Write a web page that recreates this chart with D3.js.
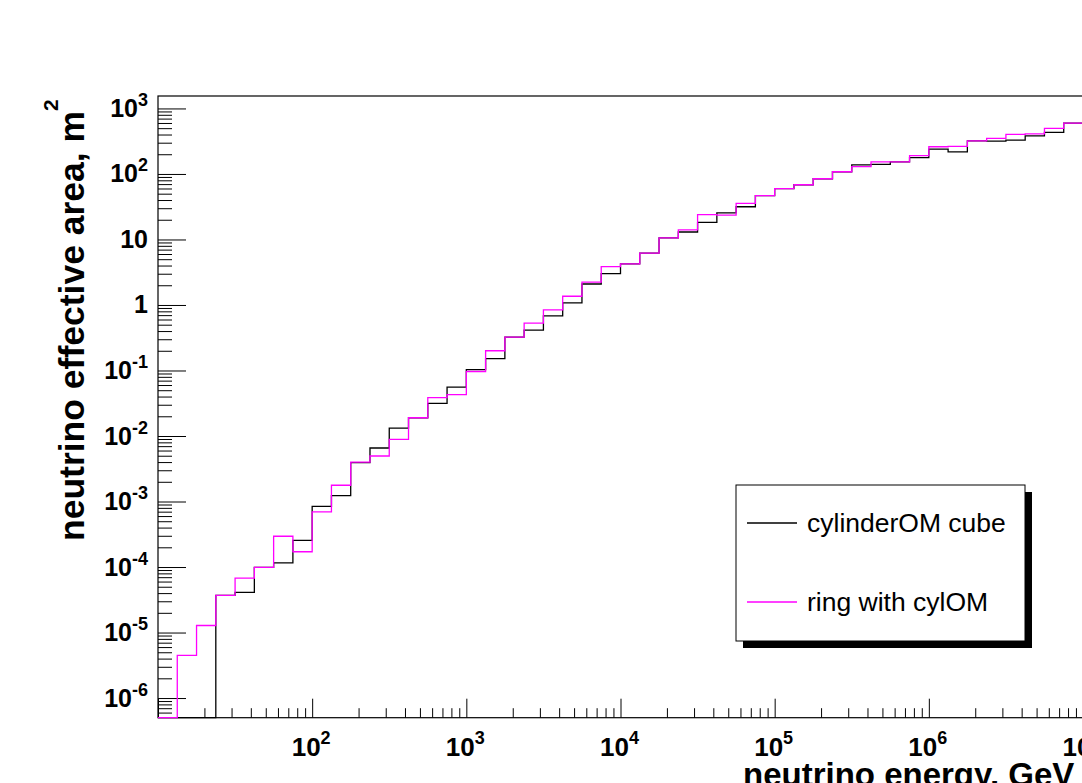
<!DOCTYPE html>
<html>
<head>
<meta charset="utf-8">
<script src="https://cdn.jsdelivr.net/npm/d3@7"></script>
<style>
  body { margin: 0; background: #fff; }
  svg { display: block; }
  text { font-family: "Liberation Sans", Arial, Helvetica, sans-serif; }
</style>
</head>
<body>
<svg id="chart" width="1082" height="783"></svg>
<script>
// histogram binning: 8 bins per decade, 10 GeV .. 10^7 GeV
var energyMin = 10, energyMax = 1e7, binsPerDecade = 8;

// effective area per bin, m^2 (0 = empty bin)
var cylinderOMcube = [
    0, 0, 0, 3.7e-5, 4.1e-5, 9.9e-5, 1.16e-4, 2.56e-4,
    8.45e-4, 1.23e-3, 3.92e-3, 6.56e-3, 1.32e-2, 1.90e-2, 3.14e-2, 5.58e-2,
    0.103, 0.152, 0.323, 0.413, 0.682, 1.08, 2.09, 3.01,
    4.24, 6.17, 10.6, 13.0, 18.3, 25.4, 31.6, 46.6,
    59.6, 68.4, 84.5, 108, 138, 140, 153, 177,
    240, 218, 321, 317, 329, 382, 431, 597
];
var ringWithCylOM = [
    0, 4.48e-6, 1.28e-5, 3.7e-5, 6.75e-5, 9.9e-5, 2.95e-4, 1.71e-4,
    6.93e-4, 1.77e-3, 3.98e-3, 4.95e-3, 8.87e-3, 1.90e-2, 3.84e-2, 4.27e-2,
    9.66e-2, 0.200, 0.323, 0.527, 0.841, 1.36, 2.23, 3.85,
    4.24, 6.17, 10.6, 14.0, 23.9, 23.6, 35.6, 46.6,
    59.6, 68.4, 84.5, 108, 129, 153, 153, 190,
    260, 264, 321, 349, 402, 410, 495, 597
];

var seriesNames = ["cylinderOM cube", "ring with cylOM"];
var seriesColors = ["#000000", "#ff00ff"];

// axis labels: [value, base, exponent]
var xTickLabels = [[1e2, "10", "2"], [1e3, "10", "3"], [1e4, "10", "4"],
                   [1e5, "10", "5"], [1e6, "10", "6"], [1e7, "10", "7"]];
var yTickLabels = [[1e-6, "10", "-6"], [1e-5, "10", "-5"], [1e-4, "10", "-4"],
                   [1e-3, "10", "-3"], [1e-2, "10", "-2"], [1e-1, "10", "-1"],
                   [1, "1", ""], [10, "10", ""], [1e2, "10", "2"], [1e3, "10", "3"]];
var yMin = Math.pow(10, -6.3), yMax = Math.pow(10, 3.19);

var xTitle = "neutrino energy, GeV";
var yTitle = "neutrino effective area, m";

(function () {
    var svg = d3.select("#chart");
    svg.append("rect").attr("width", 1082).attr("height", 783).attr("fill", "#fff");

    var plotLeft = 158, plotRight = 1083, plotTop = 96, plotBottom = 717.7;

    var x = d3.scaleLog().domain([energyMin, energyMax]).range([plotLeft, plotRight]);
    var y = d3.scaleLog().domain([yMin, yMax]).range([plotBottom, plotTop]);

    function yPos(v) {
        // empty bins sit on the bottom of the frame, like ROOT does on log scale
        return v > 0 ? y(v) : plotBottom;
    }

    // bin edges
    var nBins = cylinderOMcube.length;
    var edges = d3.range(nBins + 1).map(function (k) {
        return energyMin * Math.pow(10, k / binsPerDecade);
    });

    // minor tick values (2..9 x 10^k)
    function minorTicks(lo, hi) {
        var out = [];
        for (var e = Math.floor(Math.log10(lo)); e <= Math.ceil(Math.log10(hi)); e++) {
            for (var m = 2; m <= 9; m++) {
                var v = m * Math.pow(10, e);
                if (v > lo && v < hi) out.push(v);
            }
        }
        return out;
    }
    function noLabel() { return ""; }
    function dropDomain(g) { g.select(".domain").remove(); }

    // x axis ticks
    var xMajors = [1e1, 1e2, 1e3, 1e4, 1e5, 1e6, 1e7];
    svg.append("g")
        .attr("transform", "translate(0," + plotBottom + ")")
        .call(d3.axisBottom(x).tickValues(xMajors).tickSizeInner(-19).tickSizeOuter(0).tickFormat(noLabel))
        .call(dropDomain);
    svg.append("g")
        .attr("transform", "translate(0," + plotBottom + ")")
        .call(d3.axisBottom(x).tickValues(minorTicks(energyMin, energyMax)).tickSizeInner(-9.5).tickSizeOuter(0).tickFormat(noLabel))
        .call(dropDomain);

    // y axis ticks
    var yMajors = yTickLabels.map(function (d) { return d[0]; });
    svg.append("g")
        .attr("transform", "translate(" + plotLeft + ",0)")
        .call(d3.axisLeft(y).tickValues(yMajors).tickSizeInner(-28).tickSizeOuter(0).tickFormat(noLabel))
        .call(dropDomain);
    svg.append("g")
        .attr("transform", "translate(" + plotLeft + ",0)")
        .call(d3.axisLeft(y).tickValues(minorTicks(yMin, yMax)).tickSizeInner(-14).tickSizeOuter(0).tickFormat(noLabel))
        .call(dropDomain);

    svg.selectAll(".tick line").attr("stroke", "#000").attr("stroke-width", 1);

    // frame
    svg.append("rect")
        .attr("x", plotLeft).attr("y", plotTop)
        .attr("width", plotRight - plotLeft).attr("height", plotBottom - plotTop)
        .attr("fill", "none").attr("stroke", "#000").attr("stroke-width", 1.2);

    // x labels
    xTickLabels.forEach(function (d) {
        var t = svg.append("text")
            .attr("x", x(d[0]) - 1)
            .attr("y", 756)
            .attr("text-anchor", "middle")
            .attr("font-size", 26)
            .attr("font-weight", "bold");
        t.append("tspan").text(d[1]);
        if (d[2]) t.append("tspan").attr("font-size", 18).attr("dy", -12).text(d[2]);
    });

    // y labels
    yTickLabels.forEach(function (d) {
        var t = svg.append("text")
            .attr("x", 148)
            .attr("y", y(d[0]) + 8.5)
            .attr("text-anchor", "end")
            .attr("font-size", 25)
            .attr("font-weight", "bold");
        t.append("tspan").text(d[1]);
        if (d[2]) t.append("tspan").attr("font-size", 18).attr("dy", -11).text(d[2]);
    });

    // titles
    svg.append("text")
        .attr("x", 743).attr("y", 786)
        .attr("font-size", 33).attr("font-weight", "bold")
        .text(xTitle);

    var yt = svg.append("text")
        .attr("transform", "translate(83.5,541) rotate(-90)")
        .attr("font-size", 35.5).attr("font-weight", "bold");
    yt.append("tspan").text(yTitle);
    yt.append("tspan").attr("font-size", 21).attr("dx", 0).attr("dy", -26).text("2");

    // histograms
    var line = d3.line()
        .x(function (d) { return x(d[0]); })
        .y(function (d) { return yPos(d[1]); })
        .curve(d3.curveStepAfter);

    [cylinderOMcube, ringWithCylOM].forEach(function (vals, i) {
        var pts = vals.map(function (v, k) { return [edges[k], v]; });
        pts.push([edges[nBins], vals[nBins - 1]]);
        svg.append("path")
            .datum(pts)
            .attr("fill", "none")
            .attr("stroke", seriesColors[i])
            .attr("stroke-width", 1.3)
            .attr("d", line);
    });

    // legend
    var lg = svg.append("g");
    lg.append("rect").attr("x", 743).attr("y", 492).attr("width", 289).attr("height", 156).attr("fill", "#000");
    lg.append("rect").attr("x", 736).attr("y", 485).attr("width", 289).attr("height", 156)
        .attr("fill", "#fff").attr("stroke", "#000").attr("stroke-width", 1);
    var legendY = [523, 602];
    seriesNames.forEach(function (name, i) {
        lg.append("line")
            .attr("x1", 747).attr("x2", 797)
            .attr("y1", legendY[i]).attr("y2", legendY[i])
            .attr("stroke", seriesColors[i]).attr("stroke-width", 1.3);
        lg.append("text")
            .attr("x", 807).attr("y", legendY[i] + 9)
            .attr("font-size", 26.5)
            .text(name);
    });
})();
</script>
</body>
</html>
